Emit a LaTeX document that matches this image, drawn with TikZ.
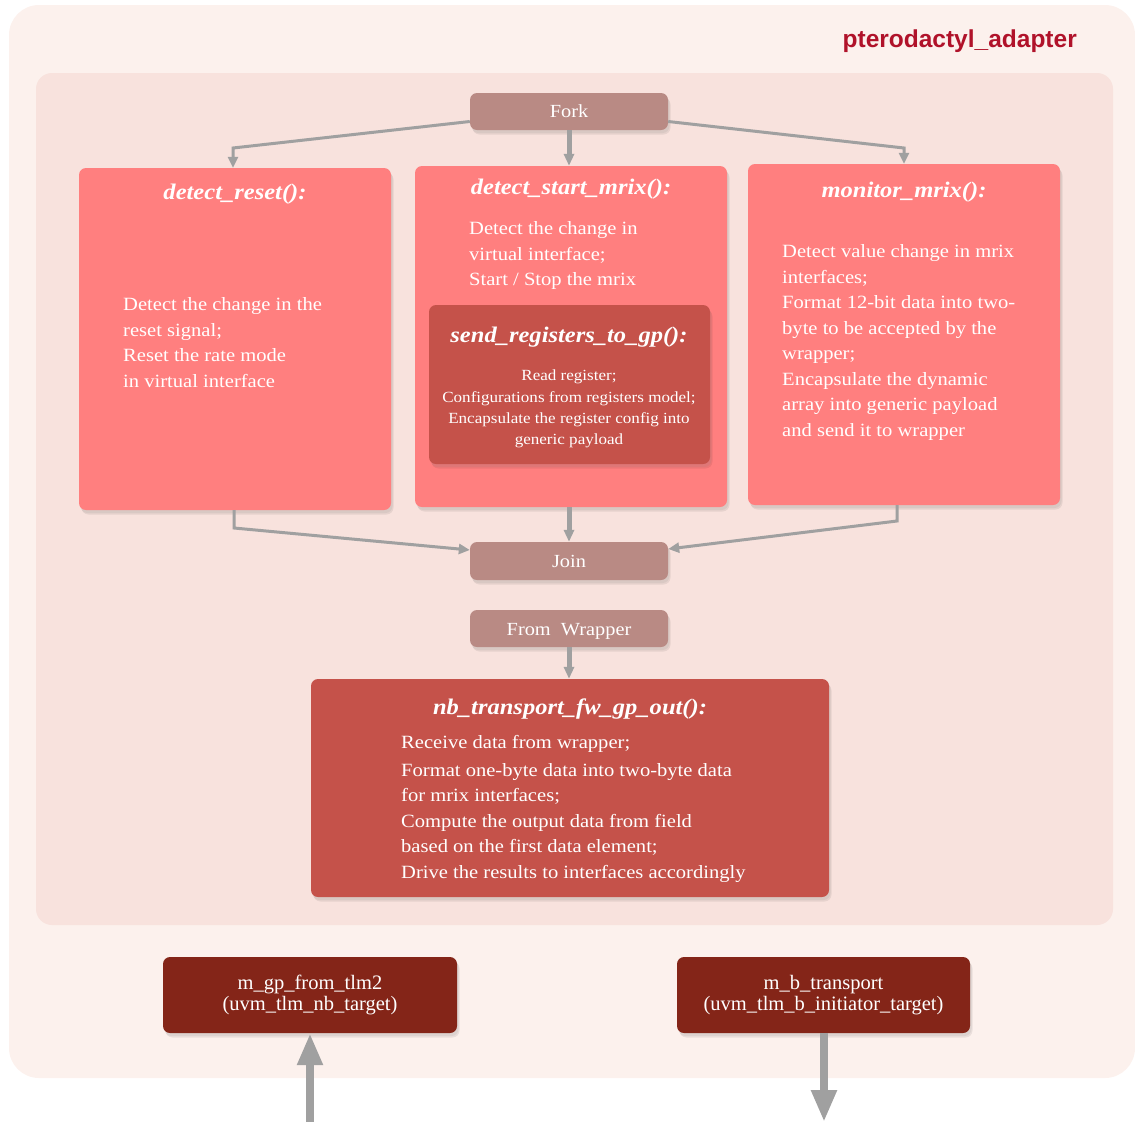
\documentclass[tikz,border=0pt]{standalone}
\usepackage{fontspec}
\setmainfont[FakeStretch=1.1]{Liberation Serif}
\newfontfamily\portfont{Liberation Serif}
\newfontfamily\headfont{Liberation Sans}
\usetikzlibrary{arrows.meta,shadows,calc}
\definecolor{outerbg}{HTML}{FCF1ED}
\definecolor{innerbg}{HTML}{F8E2DD}
\definecolor{pinkfill}{HTML}{FF7F7F}
\definecolor{redfill}{HTML}{C5524A}
\definecolor{joinfill}{HTML}{B98A84}
\definecolor{portfill}{HTML}{842518}
\definecolor{linkgray}{HTML}{A0A0A0}
\definecolor{headred}{HTML}{B0122A}
\begin{document}
\begin{tikzpicture}[x=1pt,y=-1pt,
  panel/.style={rounded corners=7pt, inner sep=0pt, text=white,
    general shadow={fill=black, opacity=0.07, shadow xshift=2.5pt, shadow yshift=-4.5pt, shadow scale=1.0},
    drop shadow={opacity=0.12, shadow xshift=1.5pt, shadow yshift=-3pt}},
  pinkbox/.style={panel, fill=pinkfill, minimum width=312, minimum height=341},
  redbox/.style={panel, fill=redfill},
  syncbox/.style={panel, fill=joinfill, minimum width=198, minimum height=37,
    font=\fontsize{18.5}{22}\selectfont},
  portbox/.style={panel, fill=portfill, minimum width=294, minimum height=76, align=center,
    font=\portfont\fontsize{20.5}{21}\selectfont},
  fname/.style={text=white, inner sep=0pt, font=\fontsize{22.3}{26}\selectfont\bfseries\itshape},
  body/.style={text=white, inner sep=0pt, anchor=north west, align=left,
    font=\fontsize{18.7}{25.5}\selectfont},
  conn/.style={draw=linkgray, line width=3pt, -{Triangle[length=11pt,width=10pt]}},
  thickconn/.style={draw=linkgray, line width=5pt, -{Triangle[length=12pt,width=10pt]}},
  bigconn/.style={draw=linkgray, line width=8pt, -{Triangle[length=32pt,width=24pt]}}
]
\useasboundingbox (0,0) rectangle (1135,1122);

% background panels
\fill[outerbg, rounded corners=30pt] (9,5) rectangle (1135,1078);
\fill[innerbg, rounded corners=16pt] (36,73) rectangle (1113,925);
\node[anchor=east, inner sep=0pt, text=headred, font=\headfont\bfseries\fontsize{24.5}{28}\selectfont]
  (adapter) at (1077,41) {pterodactyl\_adapter};

% fork / join
\node[syncbox] (fork) at (569,111.5) {Fork};
\node[syncbox, minimum height=38] (join) at (569,561) {Join};
\node[syncbox] (wrap) at (569,628.5) {};
\node[text=white, inner sep=0pt, font=\fontsize{18.5}{22}\selectfont] (wrapT) at (569,631) {From~ Wrapper};

% three parallel processes
\node[pinkbox, minimum height=342] (reset) at (235,339) {};
\node[pinkbox] (start) at (571,336.5) {};
\node[pinkbox] (monitor) at (904,334.5) {};
\node[redbox, minimum width=281, minimum height=159] (send) at (569.5,384.5) {};

\node[fname] (resetT) at (235,194) {detect\_reset():};
\node[body] (resetB) at (123,297.5) {Detect the change in the\\reset signal;\\Reset the rate mode\\in virtual interface};

\node[fname] (startT) at (571,189) {detect\_start\_mrix():};
\node[body] (startB) at (469,221.5) {Detect the change in\\virtual interface;\\Start / Stop the mrix};

\node[fname] (sendT) at (569,337) {send\_registers\_to\_gp():};
\node[text=white, inner sep=0pt, anchor=north, align=center, font=\fontsize{15.5}{21.3}\selectfont]
  (sendB) at (569,370) {Read register;\\Configurations from registers model;\\Encapsulate the register config into\\generic payload};

\node[fname] (monT) at (904,192) {monitor\_mrix():};
\node[body] (monB) at (782,244.5) {Detect value change in mrix\\interfaces;\\Format 12-bit data into two-\\byte to be accepted by the\\wrapper;\\Encapsulate the dynamic\\array into generic payload\\and send it to wrapper};

% output path
\node[redbox, minimum width=518, minimum height=218] (nb) at (570,788) {};
\node[fname] (nbT) at (570,709) {nb\_transport\_fw\_gp\_out():};
\node[body] (nbB) at (401,735.5) {Receive data from wrapper;\\[2pt]Format one-byte data into two-byte data\\for mrix interfaces;\\Compute the output data from field\\based on the first data element;\\Drive the results to interfaces accordingly};

% ports
\node[portbox] (gp) at (310,995) {m\_gp\_from\_tlm2\\(uvm\_tlm\_nb\_target)};
\node[portbox, minimum width=293] (bt) at (823.5,995) {m\_b\_transport\\(uvm\_tlm\_b\_initiator\_target)};

% connectors
\coordinate (fl) at (233,148);
\coordinate (fr) at (904,148);
\draw[conn] ([yshift=-10pt]fork.west) -- (fl) -- (reset.north -| fl);
\draw[thickconn] (fork.south) -- (fork.south |- start.north);
\draw[conn] ([yshift=-10pt]fork.east) -- (fr) -- (monitor.north -| fr);

\coordinate (jl) at (234,528);
\coordinate (jr) at (897,521);
\draw[conn] (reset.south -| jl) -- (jl) -- ([yshift=11pt]join.west);
\draw[thickconn] (join.north |- start.south) -- (join.north);
\draw[conn] (monitor.south -| jr) -- (jr) -- ([yshift=12pt]join.east);

\draw[thickconn] (wrap.south) -- (wrap.south |- nb.north);

\coordinate (inA) at (310,1122);
\coordinate (outB) at (824,1122);
\draw[bigconn] (inA) -- (inA |- gp.south);
\draw[bigconn] (bt.south -| outB) -- (outB);
\end{tikzpicture}
\end{document}
